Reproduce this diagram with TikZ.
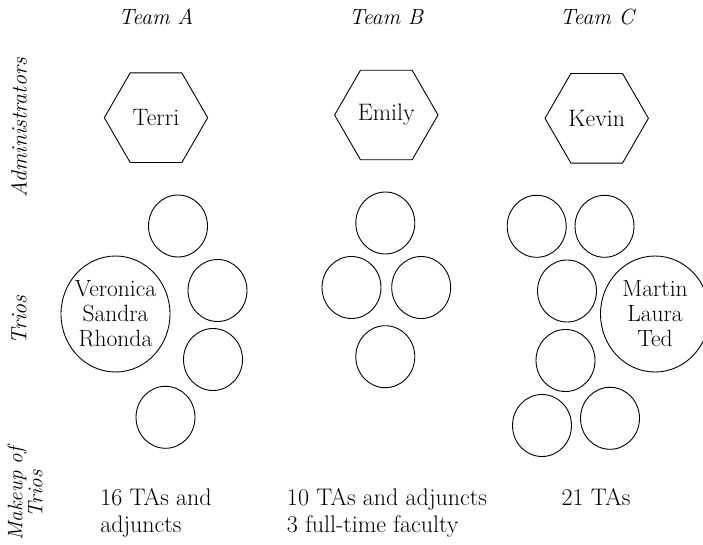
\documentclass[tikz,border=0pt]{standalone}
\usetikzlibrary{shapes.geometric}
\begin{document}
\begin{tikzpicture}[x=1pt,y=-1pt,
  hexa/.style={draw, line width=0.9pt, regular polygon, regular polygon sides=6, minimum size=103.4pt, inner sep=0pt, font=\fontsize{23.8}{26}\selectfont},
  trio/.style={draw, line width=0.9pt, ellipse, minimum width=59pt, minimum height=62pt, inner sep=0pt},
  bigtrio/.style={draw, line width=0.9pt, ellipse, minimum width=109pt, minimum height=116pt, inner sep=0pt},
  names/.style={align=center, font=\fontsize{23.5}{25}\selectfont, inner sep=0pt},
  head/.style={font=\fontsize{22}{24}\selectfont\itshape, anchor=base},
  side/.style={font=\fontsize{22}{20}\selectfont\itshape, rotate=90, align=center, inner sep=0pt},
  makeup/.style={align=left, font=\fontsize{24}{27.3}\selectfont, inner sep=0pt, anchor=north}
]
\useasboundingbox (0,0) rectangle (703,545);
\clip (0,0) rectangle (703,545);

% headers
\node[head] (ha) at (156,25) {Team A};
\node[head] (hb) at (386,25) {Team B};
\node[head] (hc) at (597,25) {Team C};

% side labels
\node[side] (ladm) at (19,128) {Administrators};
\node[side] (ltrio) at (19,320) {Trios};
\node[side, font=\fontsize{21}{20}\selectfont\itshape] (lmake) at (25,494) {Makeup of\\Trios};

% administrators
\node[hexa] (terri) at (156,117.7) {Terri};
\node[hexa] (emily) at (386.3,115) {Emily};
\node[hexa] (kevin) at (596.7,118.3) {Kevin};

% Team A trios
\node[trio] (a1) at (178,226) {};
\node[trio] (a2) at (217.5,290.5) {};
\node[bigtrio] (abig) at (115.5,314) {};
\node[names] (anames) at (abig.center) {Veronica\\Sandra\\Rhonda};
\node[trio] (a3) at (213,359.5) {};
\node[trio] (a4) at (165.5,417.3) {};

% Team B trios
\node[trio] (b1) at (385.3,223) {};
\node[trio] (b2) at (351.5,287.5) {};
\node[trio] (b3) at (421.2,287.5) {};
\node[trio] (b4) at (385.3,356.7) {};

% Team C trios
\node[trio] (c1) at (536.7,226.3) {};
\node[trio] (c2) at (604.5,226.3) {};
\node[trio] (c3) at (567,291) {};
\node[bigtrio] (cbig) at (655,314) {};
\node[names] (cnames) at (cbig.center) {Martin\\Laura\\Ted};
\node[trio] (c4) at (565.5,360.5) {};
\node[trio] (c5) at (542,425.5) {};
\node[trio] (c6) at (610,418.3) {};

% makeup
\node[makeup] (ma) at (156,488) {16 TAs and\\adjuncts};
\node[makeup] (mb) at (387,488) {10 TAs and adjuncts\\3 full-time faculty};
\node[makeup] (mc) at (596,488) {21 TAs};
\end{tikzpicture}
\end{document}
